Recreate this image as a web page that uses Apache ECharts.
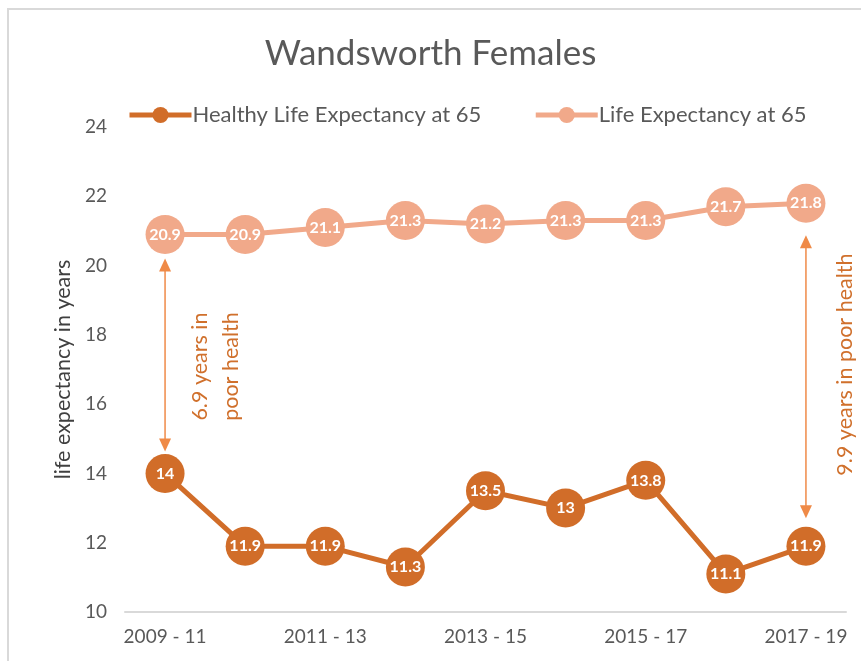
<!DOCTYPE html>
<html>
<head>
<meta charset="utf-8">
<script src="https://cdn.jsdelivr.net/npm/echarts@6/dist/echarts.min.js"></script>
<style>
  html, body { margin: 0; padding: 0; background: #fff; }
  #chart { width: 861px; height: 661px; }
</style>
</head>
<body>
<div id="chart"></div>
<script>
  var periods = ['2009 - 11', '2010 - 12', '2011 - 13', '2012 - 14', '2013 - 15',
                 '2014 - 16', '2015 - 17', '2016 - 18', '2017 - 19'];
  var healthyLE = [14, 11.9, 11.9, 11.3, 13.5, 13, 13.8, 11.1, 11.9];
  var lifeLE = [20.9, 20.9, 21.1, 21.3, 21.2, 21.3, 21.3, 21.7, 21.8];
  var gapNotes = ['6.9 years in\npoor health', '9.9 years in poor health'];

  var darkOrange = '#d16d29';
  var lightOrange = '#f1a98a';
  var arrowColor = '#ef8a47';
  var font = 'Lato, "Open Sans", sans-serif';

  var chart = echarts.init(document.getElementById('chart'));

  function pointLabel() {
    return {
      show: true,
      position: 'inside',
      color: '#fff',
      fontWeight: 'bold',
      fontSize: 16,
      fontFamily: font
    };
  }

  var option = {
    backgroundColor: '#fff',
    animation: false,
    //region title
    title: {
      text: 'Wandsworth Females',
      left: 'center',
      top: 31,
      textStyle: { color: '#595959', fontSize: 35, fontWeight: 'normal', fontFamily: font }
    },
    //endregion
    //region legend
    legend: {
      left: 122,
      top: 99,
      itemWidth: 62,
      itemHeight: 20,
      itemGap: 52,
      lineStyle: { width: 5 },
      textStyle: { color: '#595959', fontSize: 22, fontFamily: font, padding: [0, 0, 0, -4] },
      data: ['Healthy Life Expectancy at 65', 'Life Expectancy at 65']
    },
    //endregion
    grid: { left: 125, right: 15, top: 127, bottom: 49 },
    xAxis: {
      type: 'category',
      data: periods,
      axisLine: { lineStyle: { color: '#d9d9d9', width: 2 } },
      axisTick: { show: false },
      axisLabel: { interval: 1, color: '#595959', fontSize: 19, fontFamily: font, margin: 15 }
    },
    yAxis: {
      type: 'value',
      min: 10,
      max: 24,
      interval: 2,
      name: 'life expectancy in years',
      nameLocation: 'middle',
      nameGap: 50,
      nameTextStyle: { color: '#404040', fontSize: 21.5, fontFamily: font },
      splitLine: { show: false },
      axisLine: { show: false },
      axisTick: { show: false },
      axisLabel: { color: '#595959', fontSize: 19, fontFamily: font, margin: 18 }
    },
    //region series
    series: [
      {
        name: 'Healthy Life Expectancy at 65',
        type: 'line',
        data: healthyLE,
        symbol: 'circle',
        symbolSize: 39,
        lineStyle: { color: darkOrange, width: 5 },
        itemStyle: { color: darkOrange },
        label: pointLabel(),
        z: 3
      },
      {
        name: 'Life Expectancy at 65',
        type: 'line',
        data: lifeLE,
        symbol: 'circle',
        symbolSize: 39,
        lineStyle: { color: lightOrange, width: 5 },
        itemStyle: { color: lightOrange },
        label: pointLabel(),
        z: 2
      }
    ]
    //endregion
  };
  chart.setOption(option);

  // gap arrows between the two series at the first and last period
  function gapArrow(idx, topGap, bottomGap) {
    var top = chart.convertToPixel({ seriesIndex: 0 }, [idx, lifeLE[idx]]);
    var bottom = chart.convertToPixel({ seriesIndex: 0 }, [idx, healthyLE[idx]]);
    var x = top[0];
    var y1 = top[1] + topGap;
    var y2 = bottom[1] - bottomGap;
    return [
      { type: 'line', shape: { x1: x, y1: y1 + 10, x2: x, y2: y2 - 10 },
        style: { stroke: arrowColor, lineWidth: 1.5 } },
      { type: 'polygon', shape: { points: [[x, y1], [x - 6, y1 + 13], [x + 6, y1 + 13]] },
        style: { fill: arrowColor } },
      { type: 'polygon', shape: { points: [[x, y2], [x - 6, y2 - 13], [x + 6, y2 - 13]] },
        style: { fill: arrowColor } }
    ];
  }

  var first = 0, last = periods.length - 1;
  var firstX = chart.convertToPixel({ seriesIndex: 0 }, [first, 17])[0];
  var lastX = chart.convertToPixel({ seriesIndex: 0 }, [last, 17])[0];
  var midY = chart.convertToPixel({ seriesIndex: 0 }, [0, 17.2])[1];

  var elements = [
    { type: 'rect', shape: { x: 8, y: 9, width: 900, height: 700 },
      style: { fill: 'none', stroke: '#d9d9d9', lineWidth: 2 }, silent: true }
  ];
  elements = elements.concat(gapArrow(first, 24, 22), gapArrow(last, 32, 28));
  elements.push({
    type: 'text', x: firstX + 51, y: midY + 4, rotation: Math.PI / 2,
    style: { text: gapNotes[0], fill: '#d0702c', fontSize: 21.5, fontFamily: font,
             align: 'center', verticalAlign: 'middle', lineHeight: 31 }
  });
  elements.push({
    type: 'text', x: lastX + 39, y: midY + 2, rotation: Math.PI / 2,
    style: { text: gapNotes[1], fill: '#d0702c', fontSize: 21.5, fontFamily: font,
             align: 'center', verticalAlign: 'middle' }
  });
  chart.setOption({ graphic: { elements: elements } });
</script>
</body>
</html>
